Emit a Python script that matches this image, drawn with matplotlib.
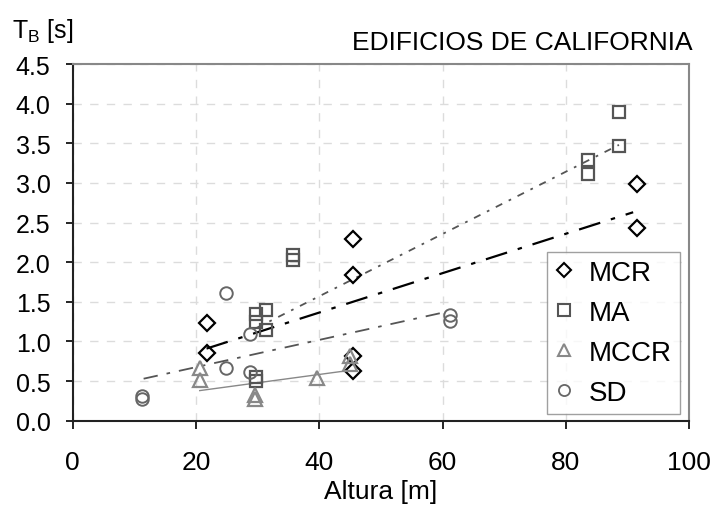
import matplotlib
matplotlib.use("Agg")
import matplotlib.pyplot as plt
from matplotlib.lines import Line2D

plt.rcParams["font.family"] = ["Liberation Sans", "DejaVu Sans"]
plt.rcParams["mathtext.fontset"] = "custom"
plt.rcParams["mathtext.rm"] = "Liberation Sans"

# periodo vs altura, por tipo estructural
mcr_x = [21.7, 21.7, 45.5, 45.5, 45.5, 45.5, 91.5, 91.5]
mcr_y = [1.23, 0.86, 2.29, 1.84, 0.82, 0.63, 2.99, 2.43]
ma_x = [29.8, 29.8, 31.4, 31.4, 29.8, 29.8, 35.7, 35.7, 83.6, 83.6, 88.6, 88.6]
ma_y = [1.35, 1.25, 1.40, 1.14, 0.55, 0.50, 2.03, 2.09, 3.29, 3.11, 3.90, 3.47]
mccr_x = [20.6, 20.6, 29.5, 29.5, 39.7, 45.0, 45.0]
mccr_y = [0.67, 0.51, 0.33, 0.27, 0.54, 0.82, 0.71]
sd_x = [11.3, 11.3, 24.9, 24.9, 28.8, 28.8, 61.2, 61.2]
sd_y = [0.31, 0.27, 1.61, 0.67, 1.10, 0.61, 1.33, 1.26]

# lineas de tendencia (extremos)
mcr_fit_x, mcr_fit_y = [21.7, 90.9], [0.91, 2.63]
ma_fit_x, ma_fit_y = [29.8, 88.6], [1.17, 3.48]
mccr_fit_x, mccr_fit_y = [20.6, 44.4], [0.38, 0.63]
sd_fit_x, sd_fit_y = [11.5, 59.8], [0.53, 1.36]

x_ticks = [0, 20, 40, 60, 80, 100]
y_ticks = [0.0, 0.5, 1.0, 1.5, 2.0, 2.5, 3.0, 3.5, 4.0, 4.5]

fig = plt.figure(figsize=(7.15, 5.10), dpi=100)
ax = fig.add_axes([0.1017, 0.1731, 0.8623, 0.6994])

ax.grid(True, color="#dcdcdc", linestyle=(0, (6, 6)), linewidth=1.0)
ax.set_axisbelow(True)

# tendencias
ax.plot(mcr_fit_x, mcr_fit_y, color="black", lw=1.6, dashes=(10, 5, 2, 5))
ax.plot(ma_fit_x, ma_fit_y, color="#555555", lw=1.3, dashes=(4, 4, 1.5, 4))
ax.plot(mccr_fit_x, mccr_fit_y, color="#888888", lw=1.0)
ax.plot(sd_fit_x, sd_fit_y, color="#555555", lw=1.3, dashes=(8, 5, 2, 5))

# puntos
ms = 9
ax.plot(mcr_x, mcr_y, "D", ms=ms * 0.85, mfc="none", mec="black", mew=1.6, ls="none")
ax.plot(ma_x, ma_y, "s", ms=ms, mfc="none", mec="#555555", mew=1.6, ls="none")
ax.plot(mccr_x, mccr_y, "^", ms=ms + 1, mfc="none", mec="#888888", mew=1.6, ls="none")
ax.plot(sd_x, sd_y, "o", ms=ms, mfc="none", mec="#666666", mew=1.4, ls="none")

ax.set_xlim(0, 100)
ax.set_ylim(0, 4.5)
ax.set_xticks(x_ticks)
ax.set_yticks(y_ticks)
ax.set_xticklabels([str(v) for v in x_ticks], fontsize=19)
ax.set_yticklabels([f"{v:.1f}" for v in y_ticks], fontsize=18)
ax.tick_params(axis="x", length=6, width=1.2, pad=15, colors="black")
ax.tick_params(axis="y", length=5, width=1.2, pad=11, colors="black")

for side in ["left", "bottom"]:
    ax.spines[side].set_color("#222222")
    ax.spines[side].set_linewidth(1.5)
for side in ["top", "right"]:
    ax.spines[side].set_color("#888888")
    ax.spines[side].set_linewidth(1.5)

ax.set_xlabel("Altura [m]", fontsize=19, labelpad=4)

fig.text(0.017, 0.925, r"T$_\mathrm{B}$ [s]", fontsize=18, ha="left", va="baseline")
fig.text(0.969, 0.902, "EDIFICIOS DE CALIFORNIA", fontsize=19, ha="right", va="baseline")

handles = [
    Line2D([], [], marker="D", ms=7, mfc="none", mec="black", mew=1.5, ls="none"),
    Line2D([], [], marker="s", ms=8, mfc="none", mec="#555555", mew=1.5, ls="none"),
    Line2D([], [], marker="^", ms=9, mfc="none", mec="#888888", mew=1.5, ls="none"),
    Line2D([], [], marker="o", ms=8, mfc="none", mec="#666666", mew=1.3, ls="none"),
]
leg = ax.legend(handles, ["MCR", "MA", "MCCR", "SD"], loc="lower right",
                bbox_to_anchor=(0.985, 0.019), fontsize=20, frameon=True, fancybox=False,
                handlelength=0.6, handletextpad=0.6, labelspacing=0.5,
                borderpad=0.3, borderaxespad=0)
leg.get_frame().set_edgecolor("#888888")
leg.get_frame().set_linewidth(1.0)

fig.savefig("out.png", dpi=100)
